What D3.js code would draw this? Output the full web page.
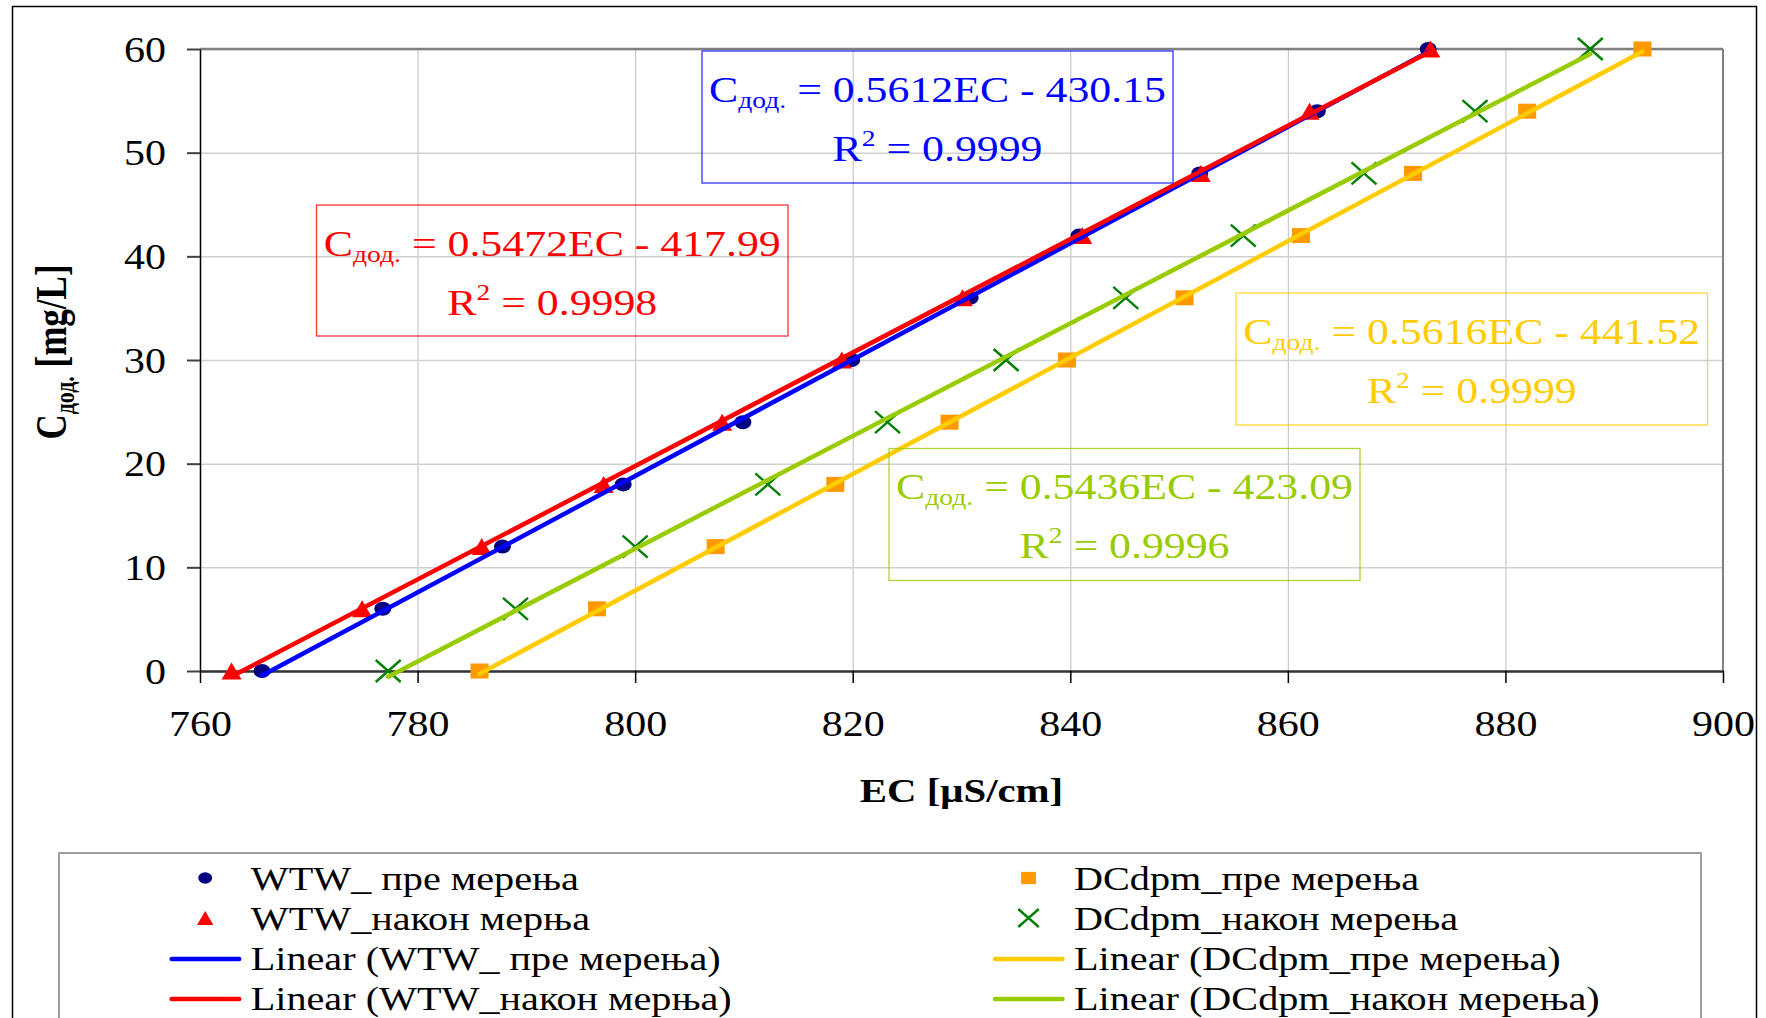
<!DOCTYPE html>
<html>
<head>
<meta charset="utf-8">
<script src="https://cdn.jsdelivr.net/npm/d3@7"></script>
<style>
  body { margin: 0; background: #fff; }
  text { font-family: "Liberation Serif", "Times New Roman", serif; }
</style>
</head>
<body>
<div id="chart"></div>
<script>
// concentration added (mg/L) and EC readings (µS/cm) for each series
const concentration = [0, 6, 12, 18, 24, 30, 36, 42, 48, 54, 60];
const wtwBefore = [765.7, 776.8, 787.8, 798.9, 809.9, 819.9, 830.8, 840.8, 851.9, 862.7, 872.9];
const wtwAfter = [762.9, 774.9, 785.9, 797.1, 808.0, 819.0, 830.1, 841.1, 852.0, 862.0, 873.1];
const dcdpmBefore = [785.7, 796.5, 807.4, 818.4, 828.9, 839.7, 850.5, 861.2, 871.5, 882.0, 892.6];
const dcdpmAfter = [777.3, 789.0, 800.0, 812.2, 823.2, 834.1, 845.1, 855.9, 867.0, 877.2, 887.8];

const seriesNames = ["WTW_ пре мерења", "WTW_након мерња", "DCdpm_пре мерења", "DCdpm_након мерења"];
// trendline equations as printed on the chart
const slopes = [0.5612, 0.5472, 0.5616, 0.5436];
const intercepts = [430.15, 417.99, 441.52, 423.09];
const rSquared = ["0.9999", "0.9998", "0.9999", "0.9996"];

const xTicks = [760, 780, 800, 820, 840, 860, 880, 900];
const yTicks = [0, 10, 20, 30, 40, 50, 60];

const W = 1766, H = 1018;
const plot = { left: 200, right: 1723, top: 49, bottom: 671 };
const SX = 1.2; // picture is stretched sideways

const markerColors = ["#000080", "#ff0000", "#ff9900", "#008000"];
const lineColors = ["#0000ff", "#ff0000", "#ffcc00", "#99cc00"];
const markerShapes = ["circle", "triangle", "square", "cross"];

const svg = d3.select("#chart").append("svg")
  .attr("width", W).attr("height", H)
  .style("display", "block");

svg.append("rect").attr("x", 0).attr("y", 0).attr("width", W).attr("height", H).attr("fill", "#fff");
// outer chart frame
svg.append("rect")
  .attr("x", 12.5).attr("y", 6.5).attr("width", 1744).attr("height", 1040)
  .attr("fill", "none").attr("stroke", "#000").attr("stroke-width", 1.5);

const x = d3.scaleLinear().domain([760, 900]).range([plot.left, plot.right]);
const y = d3.scaleLinear().domain([0, 60]).range([plot.bottom, plot.top]);

function stretch(sel, px, py, sx) {
  return sel.attr("x", 0).attr("y", 0).attr("transform", `translate(${px},${py}) scale(${sx},1)`);
}

// grid
svg.append("g")
  .attr("transform", `translate(0,${plot.bottom})`)
  .call(d3.axisBottom(x).tickValues(xTicks).tickSize(-(plot.bottom - plot.top)).tickFormat(""))
  .call(g => g.select(".domain").remove())
  .call(g => g.selectAll("line").attr("stroke", "#c8c8c8").attr("stroke-width", 1.2));
svg.append("g")
  .attr("transform", `translate(${plot.left},0)`)
  .call(d3.axisLeft(y).tickValues(yTicks).tickSize(-(plot.right - plot.left)).tickFormat(""))
  .call(g => g.select(".domain").remove())
  .call(g => g.selectAll("line").attr("stroke", "#d0d0d0").attr("stroke-width", 1.5));

// plot border top / right
svg.append("line").attr("x1", plot.left).attr("x2", plot.right).attr("y1", plot.top).attr("y2", plot.top)
  .attr("stroke", "#808080").attr("stroke-width", 2.5);
svg.append("line").attr("x1", plot.right).attr("x2", plot.right).attr("y1", plot.top).attr("y2", plot.bottom)
  .attr("stroke", "#808080").attr("stroke-width", 2);

// axes
const yAxis = svg.append("g")
  .attr("transform", `translate(${plot.left},0)`)
  .call(d3.axisLeft(y).tickValues(yTicks).tickSize(13).tickSizeOuter(0));
yAxis.select(".domain").attr("stroke", "#000").attr("stroke-width", 1.5);
yAxis.selectAll(".tick line").attr("stroke", "#404040").attr("stroke-width", 2);
yAxis.selectAll(".tick text")
  .attr("x", 0).attr("dy", null)
  .attr("transform", "translate(-34,12) scale(" + SX + ",1)")
  .attr("text-anchor", "end").attr("fill", "#000")
  .style("font-size", "35px").style("font-family", "'Liberation Serif', serif");

const xAxis = svg.append("g")
  .attr("transform", `translate(0,${plot.bottom})`)
  .call(d3.axisBottom(x).tickValues(xTicks).tickSize(12).tickSizeOuter(0));
xAxis.select(".domain").attr("stroke", "#333").attr("stroke-width", 2.5);
xAxis.selectAll(".tick line").attr("stroke", "#000").attr("stroke-width", 1.5);
xAxis.selectAll(".tick text")
  .attr("y", 0).attr("dy", null)
  .attr("transform", "translate(0,65) scale(" + SX + ",1)")
  .attr("text-anchor", "middle").attr("fill", "#000")
  .style("font-size", "35px").style("font-family", "'Liberation Serif', serif");

// axis titles
stretch(svg.append("text"), (plot.left + plot.right) / 2, 802, SX)
  .attr("text-anchor", "middle")
  .style("font-size", "34px").style("font-weight", "bold")
  .text("EC [μS/cm]");

const yTitle = svg.append("text")
  .attr("x", 0).attr("y", 0)
  .attr("transform", `translate(66,352) rotate(-90) scale(1,1.25)`)
  .attr("text-anchor", "middle")
  .style("font-size", "35px").style("font-weight", "bold");
yTitle.append("tspan").text("C");
yTitle.append("tspan").attr("dy", 6).style("font-size", "22px").text("дод.");
yTitle.append("tspan").attr("dy", -6).text("  [mg/L]");

// markers
function drawMarker(g, shape, color, cx, cy, s) {
  if (shape === "circle") {
    g.append("ellipse").attr("cx", cx).attr("cy", cy).attr("rx", 8.5 * s).attr("ry", 7 * s).attr("fill", color);
  } else if (shape === "triangle") {
    const w = 10 * s, h = 8.5 * s;
    g.append("path").attr("d", `M${cx - w},${cy + h}L${cx + w},${cy + h}L${cx},${cy - h}Z`).attr("fill", color);
  } else if (shape === "square") {
    g.append("rect").attr("x", cx - 9 * s).attr("y", cy - 7.5 * s).attr("width", 18 * s).attr("height", 15 * s).attr("fill", color);
  } else {
    const w = 12.5 * s, h = 11 * s;
    g.append("path").attr("d", `M${cx - w},${cy - h}L${cx + w},${cy + h}M${cx - w},${cy + h}L${cx + w},${cy - h}`)
      .attr("stroke", color).attr("stroke-width", 2.4).attr("fill", "none");
  }
}

const allSeries = [wtwBefore, wtwAfter, dcdpmBefore, dcdpmAfter];
const markerLayer = svg.append("g");
allSeries.forEach((vals, i) => {
  vals.forEach((v, j) => {
    drawMarker(markerLayer, markerShapes[i], markerColors[i], x(v), y(concentration[j]), 1);
  });
});

// linear trendlines over the EC range of each series
const line = d3.line().x(d => x(d[0])).y(d => y(d[1]));
allSeries.forEach((vals, i) => {
  const ext = d3.extent(vals);
  const pts = ext.map(v => [v, slopes[i] * v - intercepts[i]]);
  svg.append("path")
    .datum(pts)
    .attr("d", line)
    .attr("fill", "none")
    .attr("stroke", lineColors[i])
    .attr("stroke-width", 4.5)
    .attr("stroke-linecap", "round");
});

// equation boxes
const eqBoxes = [
  { i: 0, x0: 702, y0: 51, x1: 1173, y1: 183 },
  { i: 1, x0: 316.5, y0: 205, x1: 788, y1: 336 },
  { i: 2, x0: 1236, y0: 293, x1: 1707.5, y1: 425 },
  { i: 3, x0: 889, y0: 448.5, x1: 1360, y1: 580.5 }
];
eqBoxes.forEach(b => {
  const c = lineColors[b.i];
  svg.append("rect")
    .attr("x", b.x0).attr("y", b.y0).attr("width", b.x1 - b.x0).attr("height", b.y1 - b.y0)
    .attr("fill", "none").attr("stroke", c).attr("stroke-width", 1.3).attr("stroke-opacity", 0.8);
  const cx = (b.x0 + b.x1) / 2;
  const t1 = stretch(svg.append("text"), cx, b.y0 + 50.5, SX)
    .attr("text-anchor", "middle").attr("fill", c).style("font-size", "36.5px");
  t1.append("tspan").text("C");
  t1.append("tspan").attr("dy", 6).style("font-size", "23px").text("дод.");
  t1.append("tspan").attr("dy", -6).text(" = " + slopes[b.i] + "EC - " + intercepts[b.i].toFixed(2));
  const t2 = stretch(svg.append("text"), cx, b.y0 + 109.5, SX)
    .attr("text-anchor", "middle").attr("fill", c).style("font-size", "36.5px");
  t2.append("tspan").text("R");
  t2.append("tspan").attr("dy", -15).style("font-size", "23px").text("2");
  t2.append("tspan").attr("dy", 15).text(" = " + rSquared[b.i]);
});

// legend
svg.append("rect")
  .attr("x", 59).attr("y", 853).attr("width", 1642).attr("height", 200)
  .attr("fill", "#fff").attr("stroke", "#808080").attr("stroke-width", 1.5);

const legendCols = [171.7, 995];
const legendRows = [890, 930, 970, 1010];
const legendItems = [
  { col: 0, row: 0, kind: "marker", s: 0 },
  { col: 0, row: 1, kind: "marker", s: 1 },
  { col: 0, row: 2, kind: "line", s: 0 },
  { col: 0, row: 3, kind: "line", s: 1 },
  { col: 1, row: 0, kind: "marker", s: 2 },
  { col: 1, row: 1, kind: "marker", s: 3 },
  { col: 1, row: 2, kind: "line", s: 2 },
  { col: 1, row: 3, kind: "line", s: 3 }
];
const legend = svg.append("g");
legendItems.forEach(it => {
  const lx = legendCols[it.col], ly = legendRows[it.row];
  if (it.kind === "marker") {
    drawMarker(legend, markerShapes[it.s], markerColors[it.s], lx + 33.5, ly - 12, 0.82);
  } else {
    legend.append("line")
      .attr("x1", lx).attr("x2", lx + 67.5).attr("y1", ly - 11).attr("y2", ly - 11)
      .attr("stroke", lineColors[it.s]).attr("stroke-width", 4.5).attr("stroke-linecap", "round");
  }
  const label = it.kind === "line" ? "Linear (" + seriesNames[it.s] + ")" : seriesNames[it.s];
  stretch(legend.append("text"), lx + 79, ly, 1.2)
    .style("font-size", "33.5px").attr("fill", "#000")
    .text(label);
});
</script>
</body>
</html>
